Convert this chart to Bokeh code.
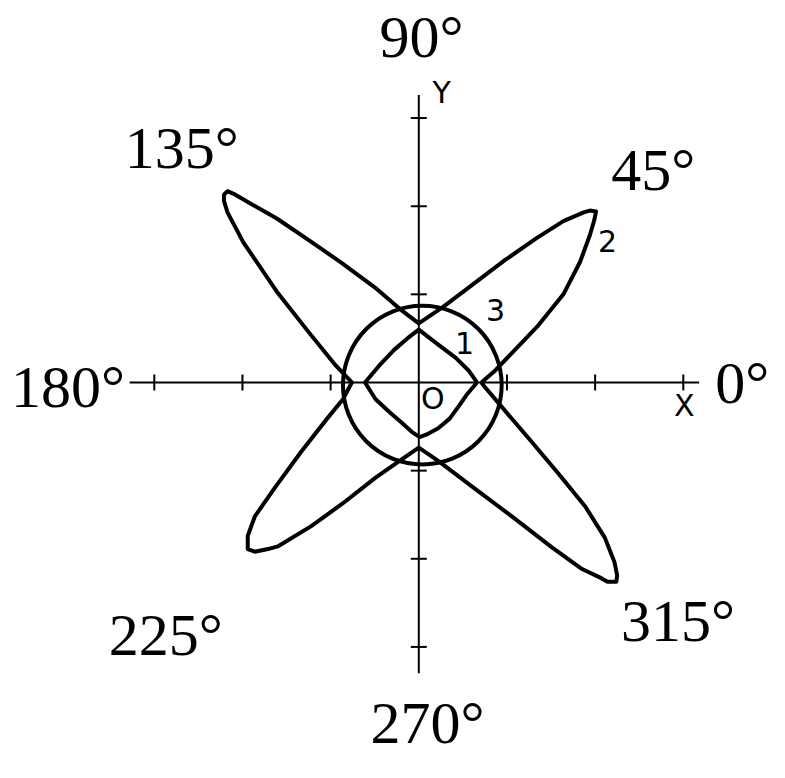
import math
from bokeh.plotting import figure
from bokeh.models import Range1d
from bokeh.embed import file_html
from bokeh.resources import INLINE
from bokeh.core.properties import value

# ---- data (in axis units) ----
# curve 1: inner rounded diamond
curve1_x = [0.66, 0.57, 0.42, 0.22, 0.00, -0.13, -0.28, -0.45, -0.61,
            -0.49, -0.34, -0.19, -0.08, 0.01, 0.09, 0.22, 0.35, 0.46, 0.55, 0.66]
curve1_y = [0.00, 0.13, 0.28, 0.43, 0.60, 0.50, 0.37, 0.19, 0.00,
            -0.19, -0.33, -0.46, -0.56, -0.62, -0.59, -0.52, -0.41, -0.26, -0.13, 0.00]

# curve 2: four slanted petals
curve2_x = [0.71, 0.87, 1.09, 1.34, 1.64, 1.83, 1.94, 1.99, 2.01, 1.94, 1.87, 1.64, 1.34, 0.98, 0.61, 0.28,
            0.00, -0.21, -0.50, -0.88, -1.24, -1.61, -1.91, -2.10, -2.17, -2.21, -2.21, -2.17, -1.99, -1.61,
            -1.24, -0.94, -0.76, -0.86, -1.04, -1.33, -1.63, -1.86, -1.94, -1.94, -1.86, -1.71, -1.60, -1.22,
            -0.86, -0.49, -0.19, 0.00, 0.22, 0.59, 1.07, 1.51, 1.84, 2.07, 2.14, 2.24, 2.25, 2.22, 2.11, 1.89,
            1.59, 1.26, 0.96, 0.74, 0.71]
curve2_y = [0.00, 0.14, 0.37, 0.63, 1.00, 1.37, 1.67, 1.84, 1.94, 1.95, 1.93, 1.83, 1.64, 1.39, 1.11, 0.86,
            0.67, 0.83, 1.08, 1.36, 1.61, 1.86, 2.03, 2.14, 2.17, 2.13, 2.06, 1.93, 1.59, 1.03,
            0.56, 0.19, 0.00, -0.19, -0.41, -0.78, -1.19, -1.52, -1.74, -1.89, -1.92, -1.89, -1.86, -1.63,
            -1.37, -1.08, -0.87, -0.74, -0.89, -1.17, -1.53, -1.87, -2.11, -2.22, -2.26, -2.26, -2.19, -2.04, -1.76, -1.41,
            -1.04, -0.65, -0.30, -0.04, 0.00]

# curve 3: circle
circle_x = [0.04]
circle_y = [-0.03]
circle_r = [0.90]

# axes
x_axis_extent = [-3.28, 3.18]
y_axis_extent = [-3.30, 3.26]
tick_values = [-3, -2, -1, 1, 2, 3]

angle_labels = ["0°", "45°", "90°", "135°", "180°", "225°", "270°", "315°"]
axis_names = ["X", "Y", "O"]
curve_names = ["1", "2", "3"]

# ---- placement of the texts (visual centres) ----
angle_label_x = [3.67, 2.66, 0.03, -2.69, -3.98, -2.87, 0.10, 2.94]
angle_label_y = [-0.01, 2.41, 3.92, 2.66, -0.05, -2.87, -3.86, -2.71]
axis_name_x = [3.01, 0.26, 0.16]
axis_name_y = [-0.26, 3.29, -0.18]
curve_name_x = [0.52, 2.14, 0.87]
curve_name_y = [0.45, 1.61, 0.82]

p = figure(width=769, height=762,
           x_range=Range1d(-427 / 90, 358 / 90), y_range=Range1d(-388 / 90, 390 / 90),
           output_backend="svg", toolbar_location=None, min_border=0)
p.grid.visible = False
p.axis.visible = False
p.outline_line_color = None
p.background_fill_color = "white"
p.border_fill_color = "white"

# axis lines and ticks
p.segment(x0=[x_axis_extent[0], 0], y0=[0, y_axis_extent[0]],
          x1=[x_axis_extent[1], 0], y1=[0, y_axis_extent[1]],
          line_color="black", line_width=2)
p.scatter(x=tick_values, y=[0] * len(tick_values), marker="dash", size=16,
          angle=math.pi / 2, line_color="black", line_width=2)
p.scatter(x=[0] * len(tick_values), y=tick_values, marker="dash", size=16,
          line_color="black", line_width=2)

# curves
p.line(curve2_x, curve2_y, line_width=4, line_color="black", line_join="round")
p.line(curve1_x, curve1_y, line_width=4, line_color="black", line_join="round")
p.circle(x=circle_x, y=circle_y, radius=circle_r, fill_color=None,
         line_color="black", line_width=4)

# texts
p.text(x=angle_label_x, y=angle_label_y, text=angle_labels,
       text_font=value("Liberation Serif"), text_font_size="60px",
       text_align="center", text_baseline="middle", text_color="black")
p.text(x=axis_name_x, y=axis_name_y, text=axis_names,
       text_font=value("DejaVu Sans"), text_font_size="30px",
       text_align="center", text_baseline="middle", text_color="black")
p.text(x=curve_name_x, y=curve_name_y, text=curve_names,
       text_font=value("DejaVu Sans"), text_font_size="30px",
       text_align="center", text_baseline="middle", text_color="black")

open("out.html", "w").write(file_html(p, INLINE))
